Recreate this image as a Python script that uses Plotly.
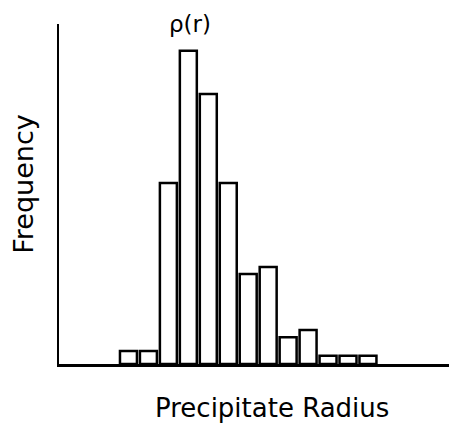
import plotly.graph_objects as go

# Size-class index of each histogram bin and its relative frequency
radius_bins = list(range(1, 14))
frequency = [3.8, 3.8, 53.2, 92.1, 79.4, 53.2, 26.5, 28.5, 7.9, 10.0, 2.4, 2.4, 2.4]

title_text = "ρ(r)"
x_label = "Precipitate Radius"
y_label = "Frequency"

fig = go.Figure(
    go.Bar(
        x=radius_bins,
        y=frequency,
        width=0.85,
        marker=dict(color="white", line=dict(color="black", width=2.5)),
        showlegend=False,
    )
)

font_family = "DejaVu Sans"

fig.update_layout(
    width=449,
    height=427,
    margin=dict(l=59, r=0, t=24, b=63),
    paper_bgcolor="white",
    plot_bgcolor="white",
    xaxis=dict(
        range=[-2.48, 17.06],
        showline=True,
        linecolor="black",
        linewidth=3,
        showticklabels=False,
        ticks="",
        showgrid=False,
        zeroline=False,
    ),
    yaxis=dict(
        range=[0, 100],
        showline=True,
        linecolor="black",
        linewidth=2,
        showticklabels=False,
        ticks="",
        showgrid=False,
        zeroline=False,
    ),
    annotations=[
        dict(
            text=title_text,
            x=4.1, xref="x",
            y=1.0, yref="paper",
            xanchor="center", yanchor="middle",
            showarrow=False,
            font=dict(family=font_family, size=23, color="black"),
        ),
        dict(
            text=x_label,
            x=0.546, xref="paper",
            y=-0.13, yref="paper",
            xanchor="center", yanchor="middle",
            showarrow=False,
            font=dict(family=font_family, size=26, color="black"),
        ),
        dict(
            text=y_label,
            x=-0.09, xref="paper",
            y=0.53, yref="paper",
            xanchor="center", yanchor="middle",
            textangle=-90,
            showarrow=False,
            font=dict(family=font_family, size=27, color="black"),
        ),
    ],
)

fig.write_html("out.html")
